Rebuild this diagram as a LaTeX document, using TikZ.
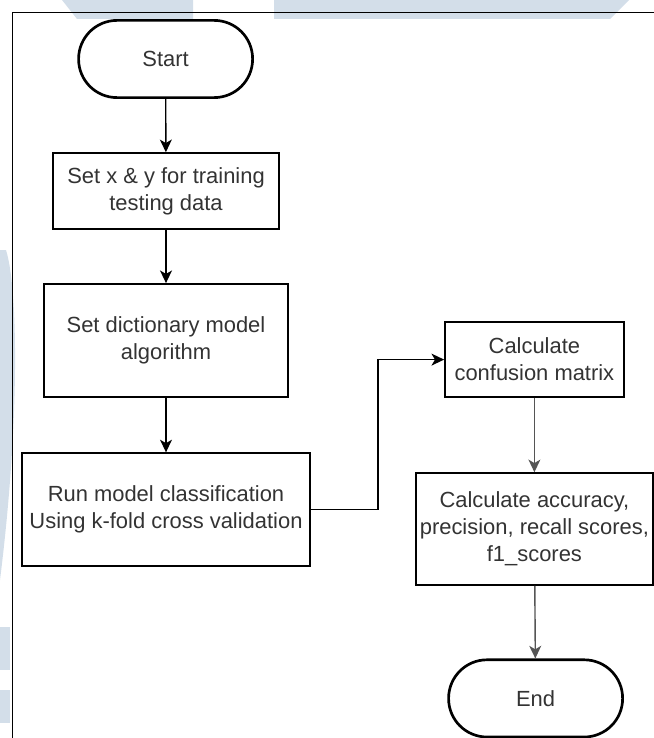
\documentclass[tikz,border=0pt]{standalone}
\usepackage{fontspec}
\setmainfont{Liberation Sans}
\usetikzlibrary{arrows.meta,positioning,shapes.geometric}
\definecolor{wmark}{HTML}{D3DEE9}
\definecolor{txtgray}{HTML}{333333}
\definecolor{linegray}{HTML}{555555}

\tikzset{
  terminal/.style={draw, line width=1.9pt, rounded corners=0.96cm, text=txtgray,
    minimum width=4.35cm, minimum height=1.93cm},
  process/.style={draw, line width=1.1pt, align=center, text=txtgray, inner sep=2pt},
  flow/.style={-{Stealth[length=9pt,width=8.5pt,inset=2.5pt]}, line width=1pt},
}

\begin{document}
\begin{tikzpicture}[font=\fontsize{15.6}{19.2}\selectfont]
        \useasboundingbox (0,0) rectangle (16.35,-18.45);

        % watermark behind the page
        \fill[wmark] (1.55,0) -- (4.825,0) -- (4.825,-0.475) -- (1.925,-0.475) -- cycle;
        \fill[wmark] (6.85,0) -- (15.725,0) -- (15.25,-0.475) -- (6.85,-0.475) -- cycle;
        \fill[wmark] (0,-6.25) -- (0.15,-6.25) .. controls (0.45,-7.2) and (0.5,-10.5) .. (0,-14.5) -- cycle;
        \fill[wmark] (0,-15.68) rectangle (0.25,-16.75);
        \fill[wmark] (0,-17.25) rectangle (0.25,-18.08);

        % page frame
        \draw[line width=0.7pt] (0.3,-18.45) -- (0.3,-0.3) -- (16.35,-0.3);

        \node[terminal] (start) at (4.14,-1.475) {Start};
        \node[process, minimum width=5.65cm, minimum height=1.9cm] (setxy) at (4.15,-4.775)
            {Set x \& y for training\\testing data};
        \node[process, minimum width=6.1cm, minimum height=2.825cm] (setdict) at (4.15,-8.51)
            {Set dictionary model\\algorithm};
        \node[process, minimum width=7.2cm, minimum height=2.825cm] (runmodel) at (4.15,-12.74)
            {Run model classification\\Using k-fold cross validation};
        \node[process, minimum width=4.475cm, minimum height=1.875cm] (confmat) at (13.36,-8.99)
            {Calculate\\confusion matrix};
        \node[process, minimum width=5.925cm, minimum height=2.8cm] (scores) at (13.36,-13.225)
            {Calculate accuracy,\\precision, recall scores,\\f1\_scores};
        \node[terminal] (stop) at (13.39,-17.46) {End};

        \coordinate (elbow) at (9.45,-12.74);

        \draw[flow] (start) -- (setxy);
        \draw[flow] (setxy) -- (setdict);
        \draw[flow] (setdict) -- (runmodel);
        \draw[flow] (runmodel) -- (elbow) |- (confmat);
        \draw[flow, linegray] (confmat) -- (scores);
        \draw[flow, linegray] (scores) -- (stop);
    \end{tikzpicture}
\end{document}
